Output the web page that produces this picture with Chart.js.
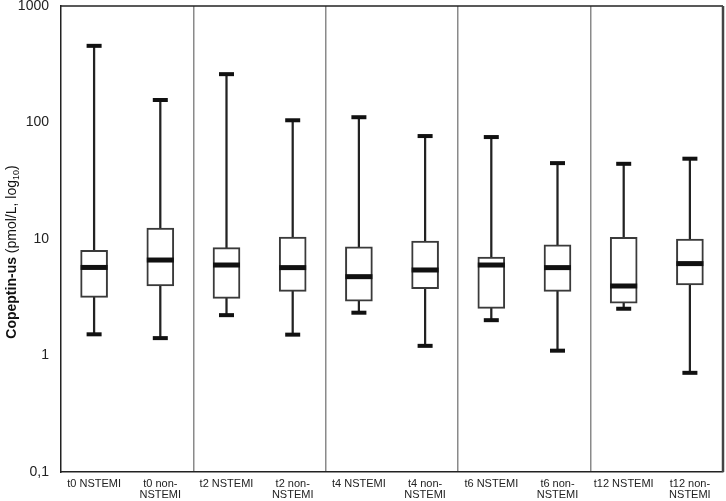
<!DOCTYPE html>
<html>
<head>
<meta charset="utf-8">
<script src="https://cdn.jsdelivr.net/npm/chart.js@4/dist/chart.umd.min.js"></script>
<style>
  html, body { margin: 0; padding: 0; background: #fff; }
  #wrap { width: 726px; height: 501px; }
</style>
</head>
<body>
<div id="wrap"><canvas id="chart"></canvas></div>
<script>
// カテゴリ
const labels = [
    't0 NSTEMI', ['t0 non-', 'NSTEMI'],
    't2 NSTEMI', ['t2 non-', 'NSTEMI'],
    't4 NSTEMI', ['t4 non-', 'NSTEMI'],
    't6 NSTEMI', ['t6 non-', 'NSTEMI'],
    't12 NSTEMI', ['t12 non-', 'NSTEMI']
];

// 箱ひげ図の値
const whiskerLow  = [1.52, 1.41, 2.22, 1.51, 2.33, 1.21, 2.01, 1.10, 2.52, 0.71];
const boxLow      = [3.15, 3.95, 3.09, 3.55, 2.93, 3.75, 2.54, 3.55, 2.82, 4.03];
const medians     = [5.7,  6.6,  5.98, 5.68, 4.75, 5.42, 5.98, 5.68, 3.95, 6.15];
const boxHigh     = [8.0,  12.4, 8.44, 10.4, 8.55, 9.6,  7.0,  8.89, 10.35, 10.0];
const whiskerHigh = [455,  156,  260,  104.5, 111, 76.5, 75,   44.8, 44.2, 48.9];

// y軸の目盛り
const yTicks = [0.1, 1, 10, 100, 1000];

// ひげのキャップ・中央値・枠線を描くプラグイン
const boxExtras = {
    id: 'boxExtras',
    afterDatasetsDraw(chart) {
        const ctx = chart.ctx;
        const x = chart.scales.x;
        const y = chart.scales.y;
        ctx.save();
        ctx.fillStyle = '#111';
        for (let i = 0; i < labels.length; i++) {
            const px = x.getPixelForValue(i);
            const yl = y.getPixelForValue(whiskerLow[i]);
            const yh = y.getPixelForValue(whiskerHigh[i]);
            const ym = y.getPixelForValue(medians[i]);
            ctx.fillRect(px - 7.5, yl - 2, 15, 4);
            ctx.fillRect(px - 7.5, yh - 2, 15, 4);
            ctx.fillRect(px - 13.5, ym - 2.5, 27, 5);
        }
        // 上と右の枠線
        const a = chart.chartArea;
        ctx.strokeStyle = '#222';
        ctx.lineWidth = 1.5;
        ctx.beginPath();
        ctx.moveTo(a.left, a.top);
        ctx.lineTo(a.right, a.top);
        ctx.stroke();
        ctx.strokeStyle = '#444';
        ctx.lineWidth = 2.5;
        ctx.beginPath();
        ctx.moveTo(a.right, a.top);
        ctx.lineTo(a.right, a.bottom);
        ctx.stroke();

        // y軸タイトル（太字と通常と下付き文字が混在）
        const cy = (a.top + a.bottom) / 2 + 13;
        ctx.translate(16, cy);
        ctx.rotate(-Math.PI / 2);
        ctx.fillStyle = '#111';
        ctx.textBaseline = 'alphabetic';
        ctx.textAlign = 'left';
        const parts = [
            { t: 'Copeptin-us', f: 'bold 14px "Liberation Sans", Arial, sans-serif', dy: 0 },
            { t: ' (pmol/L, log', f: '14px "Liberation Sans", Arial, sans-serif', dy: 0 },
            { t: '10', f: '9px "Liberation Sans", Arial, sans-serif', dy: 3 },
            { t: ')', f: '14px "Liberation Sans", Arial, sans-serif', dy: 0 }
        ];
        let total = 0;
        for (const p of parts) { ctx.font = p.f; total += ctx.measureText(p.t).width; }
        let cx = -total / 2;
        for (const p of parts) {
            ctx.font = p.f;
            ctx.fillText(p.t, cx, p.dy);
            cx += ctx.measureText(p.t).width;
        }
        ctx.restore();
    }
};

const ctx = document.getElementById('chart').getContext('2d');
new Chart(ctx, {
    type: 'bar',
    data: {
        labels: labels,
        datasets: [
            {
                label: 'box',
                data: boxLow.map((v, i) => [v, boxHigh[i]]),
                backgroundColor: '#fff',
                borderColor: '#3a3a3a',
                borderWidth: 2,
                borderSkipped: false,
                barThickness: 27,
                grouped: false,
                order: 0
            },
            {
                label: 'whisker',
                data: whiskerLow.map((v, i) => [v, whiskerHigh[i]]),
                backgroundColor: '#222',
                borderWidth: 0,
                barThickness: 1.6,
                grouped: false,
                order: 1
            }
        ]
    },
    options: {
        responsive: true,
        maintainAspectRatio: false,
        animation: false,
        layout: { padding: { left: 0, right: 3, top: 6, bottom: 0 } },
        plugins: {
            legend: { display: false },
            tooltip: { enabled: false }
        },
        scales: {
            x: {
                offset: true,
                grid: {
                    offset: true,
                    drawTicks: false,
                    lineWidth: 1.5,
                    color: (c) => (c.index > 0 && c.index < 10 && c.index % 2 === 0) ? '#8a8a8a' : 'rgba(0,0,0,0)'
                },
                border: { display: true, color: '#222', width: 1.5 },
                ticks: {
                    color: '#222',
                    font: { family: '"Liberation Sans", Arial, sans-serif', size: 11, lineHeight: 1.05 },
                    padding: 6,
                    maxRotation: 0,
                    autoSkip: false
                },
                afterFit: (s) => { s.height = 29; s.paddingLeft = 0; s.paddingRight = 0; }
            },
            y: {
                type: 'logarithmic',
                min: 0.1,
                max: 1000,
                grid: { display: false, drawTicks: false },
                border: { display: true, color: '#222', width: 1.5 },
                afterBuildTicks: (s) => { s.ticks = yTicks.map(v => ({ value: v })); },
                ticks: {
                    color: '#222',
                    font: { family: '"Liberation Sans", Arial, sans-serif', size: 14 },
                    padding: 12,
                    callback: (v) => v === 0.1 ? '0,1' : String(v)
                },
                afterFit: (s) => { s.width = 61; s.paddingTop = 0; s.paddingBottom = 0; }
            }
        }
    },
    plugins: [boxExtras]
});
</script>
</body>
</html>
